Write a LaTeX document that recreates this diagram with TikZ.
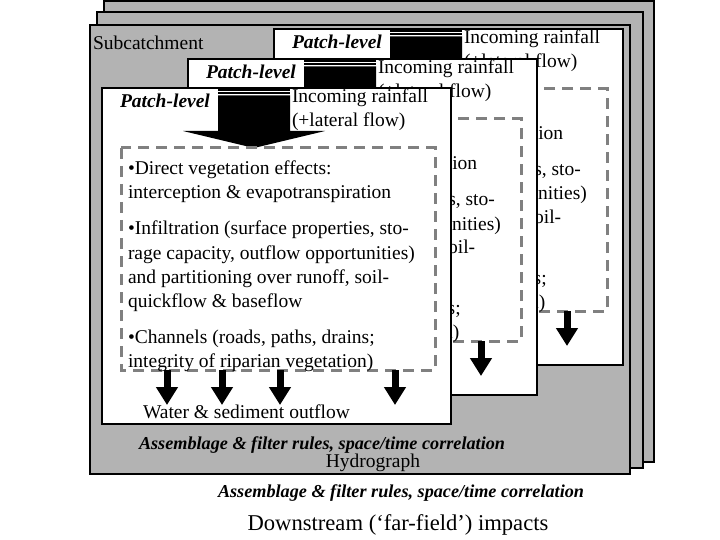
\documentclass[tikz,border=0pt]{standalone}
\usepackage{fontspec}
\setmainfont{Liberation Serif}
\usetikzlibrary{arrows.meta}

\definecolor{sheetgray}{RGB}{179,179,179}
\definecolor{dashgray}{RGB}{128,128,128}

\begin{document}
\begin{tikzpicture}[x=1pt, y=-1pt, every node/.style={inner sep=0pt, outer sep=0pt},
  sheet/.style={draw, fill=sheetgray, line width=1.5pt},
  patch/.style={draw, fill=white, line width=1.2pt},
  dashbox/.style={draw=dashgray, line width=3pt, dash pattern=on 11pt off 7pt},
  txt/.style={font=\fontsize{19.5}{24}\selectfont, anchor=base west},
  bolditalic/.style={font=\fontsize{19.5}{24}\selectfont\bfseries\itshape, anchor=base west},
  rules/.style={font=\fontsize{18.2}{22}\selectfont\bfseries\itshape, anchor=base},
  outflow/.style={line width=7pt, -{Triangle[length=18pt, width=21pt]}}]

\useasboundingbox (0,0) rectangle (720,540);
\fill[white] (0,0) rectangle (720,540);

% subcatchment sheets, back to front
\draw[sheet] (104,1) rectangle (654,462);
\draw[sheet] (97,12) rectangle (643,468);
\draw[sheet] (90,25) rectangle (630,474);

\node[txt] (subc) at (93,50) {Subcatchment};

% patch-level sheets, back to front
\foreach \dx/\dy in {172/-59, 86/-29, 0/0} {
\begin{scope}[shift={(\dx,\dy)}]
\draw[patch] (102,88) rectangle (451,424);

% striped block arrow
\fill (218,89) rectangle (290,91);
\fill (218,92.3) rectangle (290,94);
\fill (218,95.3) -- (290,95.3) -- (290,131) -- (325,131) -- (254,148) -- (183,131) -- (218,131) -- cycle;

\node[bolditalic] (patchlevel) at (120,108) {Patch-level};
\node[txt] (rain1) at (292,103) {Incoming rainfall};
\node[txt] (rain2) at (292,127) {(+lateral flow)};

\draw[dashbox] (121,148) rectangle (435,370);

\foreach \ly/\lt in {175/{•Direct vegetation effects:}, 199/{interception \& evapotranspiration},
    235/{•Infiltration (surface properties, sto-}, 259/{rage capacity, outflow opportunities)},
    283/{and partitioning over runoff, soil-}, 307/{quickflow \& baseflow},
    343/{•Channels (roads, paths, drains;}, 367/{integrity of riparian vegetation)}}
  \node[txt] (line\ly) at (128,\ly) {\lt};

\draw[outflow] (167,370) -- (167,405);
\draw[outflow] (222,370) -- (222,405);
\draw[outflow] (280,370) -- (280,405);
\draw[outflow] (395,370) -- (395,405);
\end{scope}
}

\node[txt] (outflowtxt) at (143,418) {Water \& sediment outflow};

\node[rules] (rules1) at (322,449) {Assemblage \& filter rules, space/time correlation};
\node[txt, anchor=base] (hydro) at (373,467) {Hydrograph};

\node[rules] (rules2) at (401,497) {Assemblage \& filter rules, space/time correlation};
\node[font=\fontsize{22.6}{27}\selectfont, anchor=base] (down) at (398,530) {Downstream (‘far-field’) impacts};

\end{tikzpicture}
\end{document}
